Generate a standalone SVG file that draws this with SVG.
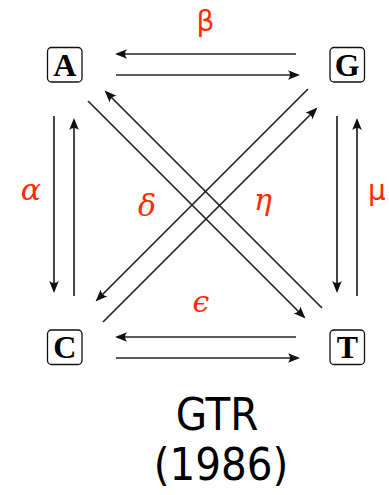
<svg xmlns="http://www.w3.org/2000/svg" width="389" height="495" viewBox="0 0 389 495">
<defs>
<marker id="ah" viewBox="-13 -5.5 14 11" refX="-2" refY="0" markerWidth="14" markerHeight="11" markerUnits="userSpaceOnUse" orient="auto">
<path d="M0,0 L-12,-4.8 Q-8,0 -12,4.8 Z" fill="#111"/>
</marker>
<style>
.box{fill:#fff;stroke:#111;stroke-width:1.3}
.nl{font-family:"Liberation Serif","Times New Roman",serif;font-weight:bold;font-size:32px;text-anchor:middle;fill:#000}
.c line{stroke:#262626;stroke-width:1.7;marker-end:url(#ah)}
.gi{font-family:"DejaVu Serif","Liberation Serif",serif;font-style:italic;font-size:30px;fill:#ff2a00;text-anchor:middle}
.gu{font-family:"DejaVu Sans",sans-serif;font-size:28px;fill:#ff2a00;text-anchor:middle}
.t{font-family:"DejaVu Sans Condensed","DejaVu Sans",sans-serif;font-stretch:condensed;font-size:45px;fill:#000;text-anchor:middle}
</style>
</defs>
<rect width="389" height="495" fill="#fff"/>
<g class="c" id="connectors">
<line x1="296" y1="54" x2="117" y2="54"/>
<line x1="116" y1="75" x2="298" y2="75"/>
<line x1="296" y1="337" x2="117" y2="337"/>
<line x1="116" y1="358" x2="298" y2="358"/>
<line x1="54" y1="116" x2="54" y2="291"/>
<line x1="74" y1="296" x2="74" y2="120"/>
<line x1="337" y1="116" x2="337" y2="291"/>
<line x1="357" y1="296" x2="357" y2="120"/>
<line x1="88" y1="101" x2="304" y2="317"/>
<line x1="322" y1="308" x2="106" y2="92"/>
<line x1="308" y1="89" x2="97" y2="300"/>
<line x1="103" y1="322" x2="316" y2="109"/>
</g>
<g id="A"><rect class="box" x="47.5" y="47.5" width="34.5" height="34.5" rx="4"/><text class="nl" x="64.8" y="75.5">A</text></g>
<g id="G"><rect class="box" x="330" y="47.5" width="34.5" height="34.5" rx="4"/><text class="nl" x="347.3" y="75.5">G</text></g>
<g id="C"><rect class="box" x="47.5" y="330" width="34.5" height="34.5" rx="4"/><text class="nl" x="64.8" y="358">C</text></g>
<g id="T"><rect class="box" x="330" y="330" width="34.5" height="34.5" rx="4"/><text class="nl" x="347.3" y="358">T</text></g>
<g id="labels">
<text class="gu" x="205.5" y="31">β</text>
<text class="gi" x="31" y="200">α</text>
<text class="gi" x="147" y="216">δ</text>
<text class="gi" x="263" y="210">η</text>
<text class="gu" x="377" y="200">μ</text>
<text class="gi" x="201" y="312">ϵ</text>
</g>
<g id="title">
<text class="t" x="217" y="430">GTR</text>
<text class="t" x="221" y="480">(1986)</text>
</g>
</svg>
